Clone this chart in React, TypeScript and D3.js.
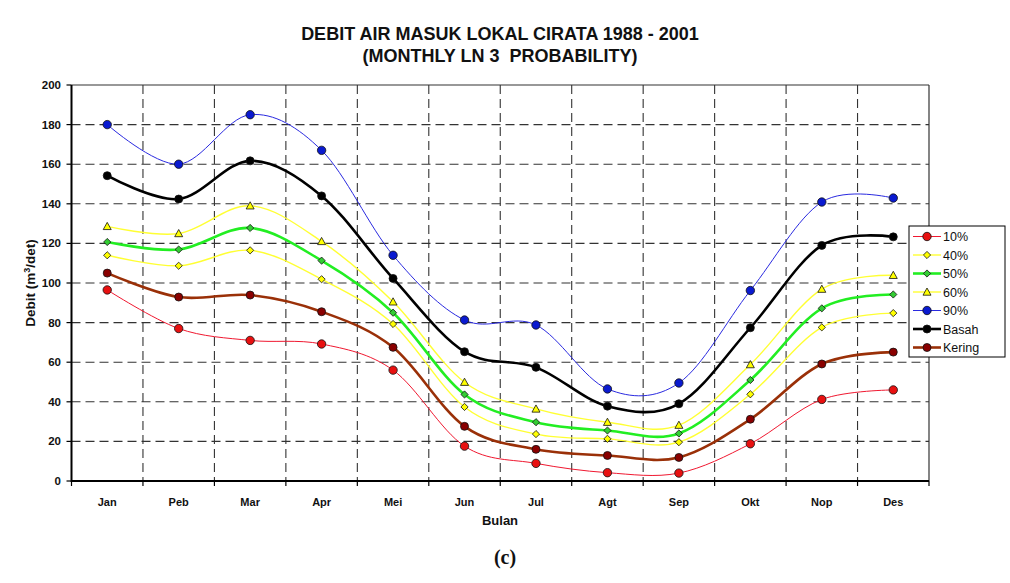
import React from "react";
import * as d3 from "d3";

const months = ["Jan", "Peb", "Mar", "Apr", "Mei", "Jun", "Jul", "Agt", "Sep", "Okt", "Nop", "Des"];
const yTicks = [0, 20, 40, 60, 80, 100, 120, 140, 160, 180, 200];

const p10 = [96.5, 77, 71, 69.2, 56, 17.6, 8.9, 4.2, 4, 18.8, 41.2, 46];
const p40 = [114, 108.7, 116.5, 101.9, 79.3, 37.4, 23.7, 21.3, 19.6, 43.8, 77.6, 84.8];
const p50 = [120.7, 116.9, 127.8, 111.3, 85, 43.7, 29.7, 25.5, 24, 51, 87.2, 94.2];
const p60 = [128.6, 125, 139, 121, 90.5, 49.9, 36.4, 29.7, 28.2, 58.8, 96.9, 103.9];
const p90 = [180, 160, 185, 167, 114, 81.3, 78.8, 46.5, 49.5, 96.2, 140.9, 142.9];
const basah = [154.2, 142.4, 161.7, 144, 102.3, 65.3, 57.4, 37.8, 39, 77.4, 119, 123.3];
const kering = [105, 92.9, 93.9, 85.5, 67.5, 27.6, 16, 12.9, 11.9, 31.2, 59.1, 65.1];

type Marker = "circle" | "diamond" | "triangle";
interface Series {
  name: string;
  values: number[];
  line: string;
  width: number;
  marker: Marker;
  fill: string;
  size: number;
}

const series: Series[] = [
  { name: "10%", values: p10, line: "#f01830", width: 1, marker: "circle", fill: "#e81010", size: 4.2 },
  { name: "40%", values: p40, line: "#ffff33", width: 1.4, marker: "diamond", fill: "#ffff00", size: 3.6 },
  { name: "50%", values: p50, line: "#22ee22", width: 2.6, marker: "diamond", fill: "#33cc33", size: 3.6 },
  { name: "60%", values: p60, line: "#ffff33", width: 1.4, marker: "triangle", fill: "#ffff00", size: 4 },
  { name: "90%", values: p90, line: "#2a2ae0", width: 1, marker: "circle", fill: "#0a1ad0", size: 4.2 },
  { name: "Basah", values: basah, line: "#000000", width: 2.6, marker: "circle", fill: "#000000", size: 4 },
  { name: "Kering", values: kering, line: "#9a3008", width: 2.6, marker: "circle", fill: "#8a0000", size: 4 },
];

const W = 1010;
const H = 583;
const plot = { left: 71.5, right: 929, top: 85, bottom: 481 };
const FONT = "'Liberation Sans', Arial, sans-serif";

function MarkerShape({ kind, x, y, s, fill }: { kind: Marker; x: number; y: number; s: number; fill: string }) {
  const stroke = "#111";
  if (kind === "circle") return <circle cx={x} cy={y} r={s} fill={fill} stroke={stroke} strokeWidth={0.8} />;
  if (kind === "diamond")
    return (
      <path
        d={`M${x},${y - s}L${x + s},${y}L${x},${y + s}L${x - s},${y}Z`}
        fill={fill}
        stroke={stroke}
        strokeWidth={0.8}
      />
    );
  return (
    <path
      d={`M${x},${y - s}L${x + s},${y + s * 0.8}L${x - s},${y + s * 0.8}Z`}
      fill={fill}
      stroke={stroke}
      strokeWidth={0.8}
    />
  );
}

export default function App() {
  const x = d3.scaleBand<string>().domain(months).range([plot.left, plot.right]);
  const y = d3.scaleLinear().domain([0, 200]).range([plot.bottom, plot.top]);
  const cx = (m: string) => (x(m) as number) + x.bandwidth() / 2;

  const line = d3
    .line<number>()
    .x((_, i) => cx(months[i]))
    .y((v) => y(v))
    .curve(d3.curveCardinal.tension(0));

  const boundaries = months.slice(1).map((m) => x(m) as number);
  const dash = "9,5";

  const legend = { x: 909, y: 226, w: 96, h: 131, row: 18.5 };

  return (
    <svg
      width={W}
      height={H}
      style={{ position: "absolute", left: 0, top: 0, background: "#fff" }}
      fontFamily={FONT}
    >
      {/* title */}
      <text x={500} y={39.5} textAnchor="middle" fontSize={18} fontWeight="bold" fill="#111">
        DEBIT AIR MASUK LOKAL CIRATA 1988 - 2001
      </text>
      <text x={500} y={61.5} textAnchor="middle" fontSize={18} fontWeight="bold" fill="#111" xmlSpace="preserve">
        (MONTHLY LN 3  PROBABILITY)
      </text>

      {/* gridlines */}
      {yTicks
        .filter((t) => t > 0 && t < 200)
        .map((t) => (
          <line
            key={"h" + t}
            x1={plot.left}
            x2={plot.right}
            y1={y(t)}
            y2={y(t)}
            stroke="#333"
            strokeWidth={1.1}
            strokeDasharray={dash}
          />
        ))}
      {boundaries.map((bx, i) => (
        <line
          key={"v" + i}
          x1={bx}
          x2={bx}
          y1={plot.top}
          y2={plot.bottom}
          stroke="#333"
          strokeWidth={1.1}
          strokeDasharray={dash}
        />
      ))}

      {/* frame */}
      <line x1={plot.left} x2={plot.right} y1={plot.top} y2={plot.top} stroke="#333" strokeWidth={1.2} />
      <line x1={plot.right} x2={plot.right} y1={plot.top} y2={plot.bottom} stroke="#333" strokeWidth={1.2} />
      <line x1={plot.left} x2={plot.left} y1={plot.top} y2={plot.bottom + 1} stroke="#000" strokeWidth={2} />
      <line x1={plot.left} x2={plot.right} y1={plot.bottom} y2={plot.bottom} stroke="#000" strokeWidth={2} />

      {/* y axis ticks + labels */}
      {yTicks.map((t) => (
        <g key={"yt" + t}>
          <line x1={plot.left - 5} x2={plot.left} y1={y(t)} y2={y(t)} stroke="#000" strokeWidth={1.2} />
          <text x={61} y={y(t) + 4} textAnchor="end" fontSize={11.5} fontWeight="bold" fill="#111">
            {t}
          </text>
        </g>
      ))}

      {/* x axis ticks + labels */}
      {[plot.left, ...boundaries, plot.right].map((bx, i) => (
        <line key={"xt" + i} x1={bx} x2={bx} y1={plot.bottom} y2={plot.bottom + 5} stroke="#000" strokeWidth={1.2} />
      ))}
      {months.map((m) => (
        <text key={"xl" + m} x={cx(m)} y={506} textAnchor="middle" fontSize={11} fontWeight="bold" fill="#111">
          {m}
        </text>
      ))}

      {/* axis titles */}
      <text x={500} y={525} textAnchor="middle" fontSize={13} fontWeight="bold" fill="#111">
        Bulan
      </text>
      <text
        transform={`translate(35,${(plot.top + plot.bottom) / 2}) rotate(-90)`}
        textAnchor="middle"
        fontSize={13.5}
        fontWeight="bold"
        fill="#111"
      >
        Debit (m<tspan fontSize={9} dy={-5}>3</tspan>
        <tspan dy={5}>/det)</tspan>
      </text>

      {/* series lines */}
      {series.map((s) => (
        <path key={"l" + s.name} d={line(s.values) || ""} fill="none" stroke={s.line} strokeWidth={s.width} />
      ))}
      {/* series markers */}
      {series.map((s) =>
        s.values.map((v, i) => (
          <MarkerShape key={s.name + i} kind={s.marker} x={cx(months[i])} y={y(v)} s={s.size} fill={s.fill} />
        ))
      )}

      {/* legend */}
      <rect x={legend.x} y={legend.y} width={legend.w} height={legend.h} fill="#fff" stroke="#000" strokeWidth={1} />
      {series.map((s, i) => {
        const ry = legend.y + 10.5 + i * legend.row;
        const lx0 = legend.x + 4;
        const lx1 = legend.x + 32;
        return (
          <g key={"lg" + s.name}>
            <line x1={lx0} x2={lx1} y1={ry} y2={ry} stroke={s.line} strokeWidth={s.width} />
            <MarkerShape kind={s.marker} x={(lx0 + lx1) / 2} y={ry} s={s.size} fill={s.fill} />
            <text x={lx1 + 2} y={ry + 4.5} fontSize={12.5} fill="#111">
              {s.name}
            </text>
          </g>
        );
      })}

      {/* panel tag */}
      <text
        x={505}
        y={564}
        textAnchor="middle"
        fontSize={20}
        fontWeight="bold"
        fontFamily="'Liberation Serif', 'Times New Roman', serif"
        fill="#111"
      >
        (c)
      </text>
    </svg>
  );
}
